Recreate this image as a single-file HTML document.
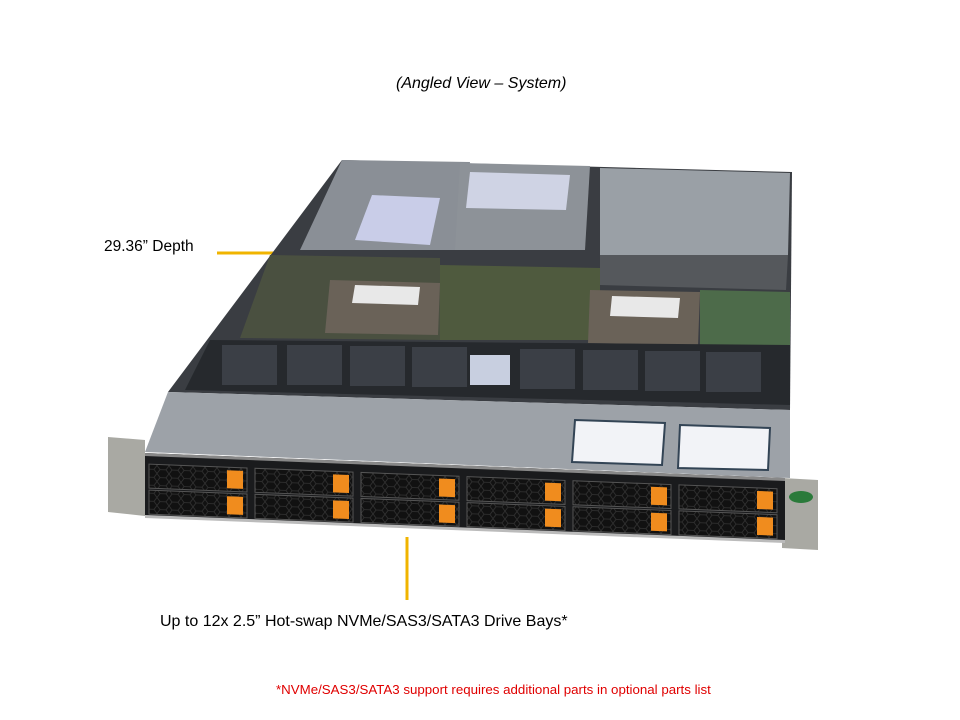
<!DOCTYPE html>
<html><head><meta charset="utf-8"><style>
html,body{margin:0;padding:0;background:#fff;}
body{width:960px;height:720px;position:relative;overflow:hidden;font-family:"Liberation Sans",sans-serif;}
.t{position:absolute;white-space:nowrap;color:#000;}
</style></head><body>
<div class="t" style="left:396px;top:75px;font-size:16px;font-style:italic;">(Angled View – System)</div>
<div class="t" style="left:104px;top:238px;font-size:15.5px;">29.36” Depth</div>
<div class="t" style="left:160px;top:613px;font-size:16px;">Up to 12x 2.5” Hot-swap NVMe/SAS3/SATA3 Drive Bays*</div>
<div class="t" style="left:276px;top:682px;font-size:13.3px;color:#e00000;">*NVMe/SAS3/SATA3 support requires additional parts in optional parts list</div>
<svg width="960" height="720" style="position:absolute;left:0;top:0">
<defs>
<pattern id="hex" width="12" height="8" patternUnits="userSpaceOnUse"><rect width="12" height="8" fill="#111"/><path d="M0 4 L3 0 L9 0 L12 4 L9 8 L3 8 Z" fill="none" stroke="#333" stroke-width="0.8"/></pattern>
</defs>
<line x1="217" y1="253" x2="275" y2="253" stroke="#f0b400" stroke-width="3"/>
<line x1="407" y1="537" x2="407" y2="600" stroke="#f0b400" stroke-width="3"/>
<polygon points="342,160 792,172 790,410 168,392" fill="#3a3d42"/>
<polygon points="342,160 470,162 460,250 300,250" fill="#8a8f96"/>
<polygon points="372,195 440,198 430,245 355,240" fill="#c9cde8"/>
<polygon points="460,163 590,166 585,250 455,250" fill="#8d9298"/>
<polygon points="470,172 570,175 566,210 466,208" fill="#cfd3e4"/>
<polygon points="600,168 790,173 788,255 600,255" fill="#9aa0a6"/>
<polygon points="600,255 788,255 786,290 600,285" fill="#55585c"/>
<polygon points="270,255 440,258 440,340 240,338" fill="#4a5040"/>
<polygon points="330,280 440,283 438,335 325,333" fill="#6a6258"/>
<polygon points="355,285 420,287 418,305 352,303" fill="#e8e8e8"/>
<polygon points="440,265 600,268 600,340 440,340" fill="#4f5a3e"/>
<polygon points="590,290 700,292 698,345 588,343" fill="#6a6258"/>
<polygon points="612,296 680,298 678,318 610,316" fill="#e8e8e8"/>
<polygon points="700,290 790,292 790,345 700,345" fill="#4d6b4a"/>
<polygon points="210,340 790,345 790,405 185,390" fill="#26292d"/>
<g fill="#3b3f46">
<rect x="222" y="345" width="55" height="40"/><rect x="287" y="345" width="55" height="40"/><rect x="350" y="346" width="55" height="40"/><rect x="412" y="347" width="55" height="40"/>
<rect x="520" y="349" width="55" height="40"/><rect x="583" y="350" width="55" height="40"/><rect x="645" y="351" width="55" height="40"/><rect x="706" y="352" width="55" height="40"/>
</g>
<rect x="470" y="355" width="40" height="30" fill="#c8cfe0"/>
<polygon points="168,392 790,410 790,478 145,452" fill="#9da2a8"/>
<polygon points="575,420 665,423 662,465 572,462" fill="#f2f3f7" stroke="#345" stroke-width="2"/>
<polygon points="680,425 770,428 768,470 678,468" fill="#f2f3f7" stroke="#345" stroke-width="2"/>
<polygon points="108,437 145,440 145,516 108,512" fill="#a9a9a3"/>
<polygon points="782,478 818,480 818,550 782,548" fill="#a9a9a3"/>
<ellipse cx="801" cy="497" rx="12" ry="6" fill="#2a7a3a"/>
<g transform="translate(145,453) skewY(2.24)">
<rect x="0" y="0" width="640" height="64" fill="#1a1b1d"/>
<rect x="0" y="0" width="640" height="3" fill="#888"/>
<g fill="url(#hex)" stroke="#555" stroke-width="1">
<rect x="4" y="11" width="98" height="24"/><rect x="4" y="37" width="98" height="24"/>
<rect x="110" y="11" width="98" height="24"/><rect x="110" y="37" width="98" height="24"/>
<rect x="216" y="11" width="98" height="24"/><rect x="216" y="37" width="98" height="24"/>
<rect x="322" y="11" width="98" height="24"/><rect x="322" y="37" width="98" height="24"/>
<rect x="428" y="11" width="98" height="24"/><rect x="428" y="37" width="98" height="24"/>
<rect x="534" y="11" width="98" height="24"/><rect x="534" y="37" width="98" height="24"/>
</g>
<g fill="#f08c1e">
<rect x="82" y="14" width="16" height="18"/><rect x="82" y="40" width="16" height="18"/>
<rect x="188" y="14" width="16" height="18"/><rect x="188" y="40" width="16" height="18"/>
<rect x="294" y="14" width="16" height="18"/><rect x="294" y="40" width="16" height="18"/>
<rect x="400" y="14" width="16" height="18"/><rect x="400" y="40" width="16" height="18"/>
<rect x="506" y="14" width="16" height="18"/><rect x="506" y="40" width="16" height="18"/>
<rect x="612" y="14" width="16" height="18"/><rect x="612" y="40" width="16" height="18"/>
</g>
<rect x="0" y="62" width="640" height="3" fill="#bbb"/>
</g>
</svg>
</body></html>
